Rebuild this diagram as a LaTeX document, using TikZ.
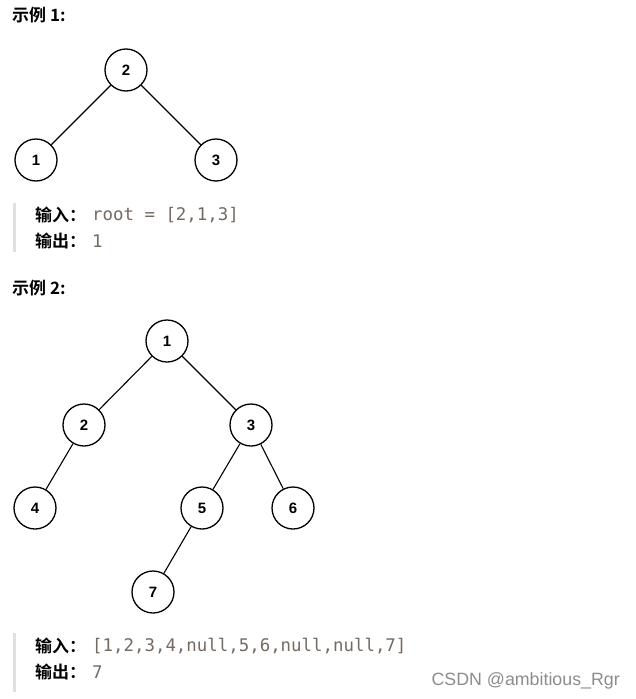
\documentclass[tikz,border=0pt]{standalone}
\usepackage{fontspec}
\setmainfont{Liberation Sans}
\setmonofont{DejaVu Sans Mono}
\newfontfamily\cjk{Noto Sans CJK SC}[BoldFont={Noto Sans CJK SC Bold}]
\usetikzlibrary{positioning}
\definecolor{codegray}{RGB}{116,106,96}
\definecolor{bargray}{RGB}{224,224,224}

\begin{document}
\begin{tikzpicture}[x=1pt,y=-1pt,
  tnode/.style={draw, line width=1.3pt, circle, minimum size=42pt, inner sep=0pt,
    font=\bfseries\fontsize{15}{15}\selectfont},
  edge/.style={line width=1.1pt},
  title/.style={anchor=west, inner sep=0pt, font=\cjk\bfseries\fontsize{17}{18}\selectfont},
  label/.style={anchor=west, inner sep=0pt, font=\cjk\bfseries\fontsize{17}{18}\selectfont},
  code/.style={anchor=west, inner sep=0pt, text=codegray, font=\ttfamily\fontsize{17.4}{18}\selectfont}]
\useasboundingbox (0,0) rectangle (635,699);

% example 1
\node[title] (t1) at (12,15) {示例 1:};
\node[tnode] (a2) at (126,70) {2};
\node[tnode] (a1) at (36,160) {1};
\node[tnode] (a3) at (216,160) {3};
\draw[edge] (a2) -- (a1);
\draw[edge] (a2) -- (a3);

\fill[bargray] (13,203) rectangle (16,252);
\node[label] (in1) at (35,215) {输入：};
\node[code] (v1) at (92,215) {root = [2,1,3]};
\node[label] (out1) at (35,241) {输出：};
\node[code] (r1) at (92,241) {1};

% example 2
\node[title] (t2) at (12,288) {示例 2:};
\node[tnode] (b1) at (167,341) {1};
\node[tnode] (b2) at (84,425) {2};
\node[tnode] (b3) at (251,425) {3};
\node[tnode] (b4) at (35,508) {4};
\node[tnode] (b5) at (202,508) {5};
\node[tnode] (b6) at (293,508) {6};
\node[tnode] (b7) at (153,592) {7};
\draw[edge] (b1) -- (b2);
\draw[edge] (b1) -- (b3);
\draw[edge] (b2) -- (b4);
\draw[edge] (b3) -- (b5);
\draw[edge] (b3) -- (b6);
\draw[edge] (b5) -- (b7);

\fill[bargray] (13,633) rectangle (16,692);
\node[label] (in2) at (35,646) {输入：};
\node[code] (v2) at (92,646) {[1,2,3,4,null,5,6,null,null,7]};
\node[label] (out2) at (35,672) {输出：};
\node[code] (r2) at (92,672) {7};

\node[anchor=east, inner sep=0pt, text=black!45, font=\fontsize{17.8}{18}\selectfont] (wm) at (620,681) {CSDN @ambitious\_Rgr};
\end{tikzpicture}
\end{document}
